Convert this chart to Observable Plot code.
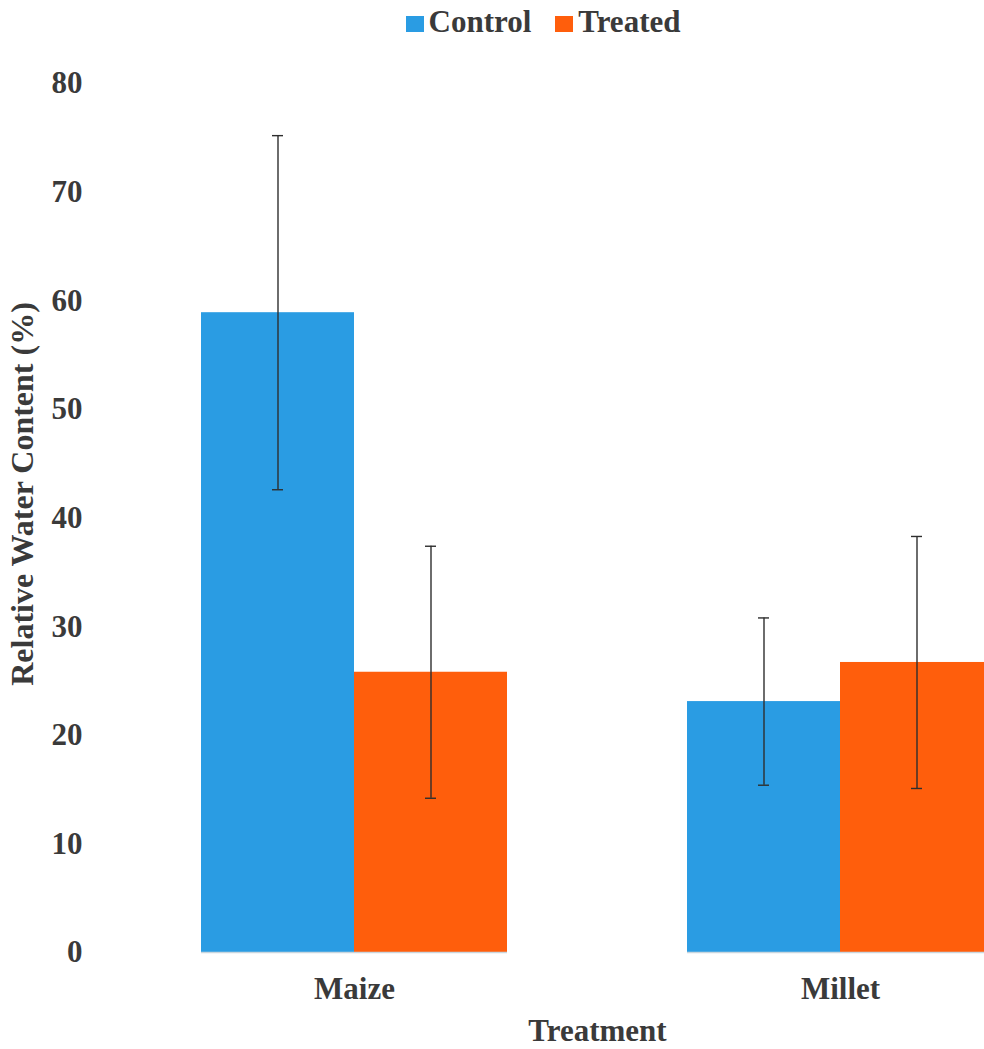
<!DOCTYPE html>
<html>
<head>
<meta charset="utf-8">
<script src="https://cdn.jsdelivr.net/npm/d3@7"></script>
<script src="https://cdn.jsdelivr.net/npm/@observablehq/plot@0.6"></script>
<style>
  html, body { margin: 0; padding: 0; background: #fff; overflow: hidden; }
  #wrap { width: 984px; overflow: hidden; position: relative; }
  #legend {
    height: 44px; width: 984px; display: flex; justify-content: center; align-items: flex-end;
    font-family: "Liberation Serif", serif; font-weight: bold; font-size: 31px; color: #3a3a3a;
    box-sizing: border-box; padding-left: 102px; padding-bottom: 7px; line-height: 1;
  }
  #legend .item { display: flex; align-items: baseline; margin: 0 12px; }
  #legend .sw { display: inline-block; width: 18px; height: 16px; margin-right: 5px; }
  #chart svg { max-width: none !important; }
</style>
</head>
<body>
<div id="wrap">
  <div id="legend"></div>
  <div id="chart"></div>
</div>
<script>
// Relative water content of maize and millet leaves, control vs treated
const crops = ["Maize", "Millet"];
const groups = ["Control", "Treated"];
const meanControl = [58.9, 23.1];
const meanTreated = [25.8, 26.7];
const sdControl = [16.3, 7.7];
const sdTreated = [11.6, 11.6];
const yTicks = [0, 10, 20, 30, 40, 50, 60, 70, 80];
const colors = ["#2a9ce3", "#ff5e0c"];
const textColor = "#3a3a3a";

const rows = [];
crops.forEach((crop, i) => {
  rows.push({crop, group: groups[0], mean: meanControl[i], sd: sdControl[i]});
  rows.push({crop, group: groups[1], mean: meanTreated[i], sd: sdTreated[i]});
});

// legend
const legend = document.getElementById("legend");
groups.forEach((g, i) => {
  const item = document.createElement("span");
  item.className = "item";
  const sw = document.createElement("span");
  sw.className = "sw";
  sw.style.background = colors[i];
  item.appendChild(sw);
  item.appendChild(document.createTextNode(g));
  legend.appendChild(item);
});

const chart = Plot.plot({
  width: 1100,
  height: 1005,
  marginLeft: 111,
  marginRight: 17,
  marginTop: 39,
  marginBottom: 97,
  style: {fontFamily: "Liberation Serif, serif", fontSize: "31px", fontWeight: "bold", color: textColor, background: "white", maxWidth: "none"},
  fx: {domain: crops, paddingInner: 0.37, paddingOuter: 0.185},
  x: {domain: groups, padding: 0, axis: null},
  y: {domain: [0, 80]},
  color: {domain: groups, range: colors},
  marks: [
    Plot.barY(rows, {fx: "crop", x: "group", y: "mean", fill: "group"}),
    Plot.ruleY([0], {stroke: "#c9d6de", strokeWidth: 1.5}),
    Plot.ruleX(rows, {fx: "crop", x: "group", y1: d => d.mean - d.sd, y2: d => d.mean + d.sd, stroke: "#2e2e2e", strokeWidth: 1.4}),
    Plot.tickY(rows, {fx: "crop", x: "group", y: d => d.mean - d.sd, stroke: "#2e2e2e", strokeWidth: 1.4, insetLeft: 71, insetRight: 71}),
    Plot.tickY(rows, {fx: "crop", x: "group", y: d => d.mean + d.sd, stroke: "#2e2e2e", strokeWidth: 1.4, insetLeft: 71, insetRight: 71}),
    Plot.axisY({ticks: yTicks, tickSize: 0, tickPadding: 119, label: null, fill: textColor}),
    Plot.text(["Relative Water Content (%)"], {fx: () => crops[0], frameAnchor: "left", textAnchor: "middle", rotate: -90, dx: -179, dy: -24, fontSize: 32, fontWeight: "bold", fill: textColor}),
    Plot.axisFx({anchor: "bottom", tickSize: 0, tickPadding: 24, label: "Treatment", labelAnchor: "center", labelOffset: 88, fill: textColor})
  ]
});
document.getElementById("chart").appendChild(chart);
</script>
</body>
</html>
